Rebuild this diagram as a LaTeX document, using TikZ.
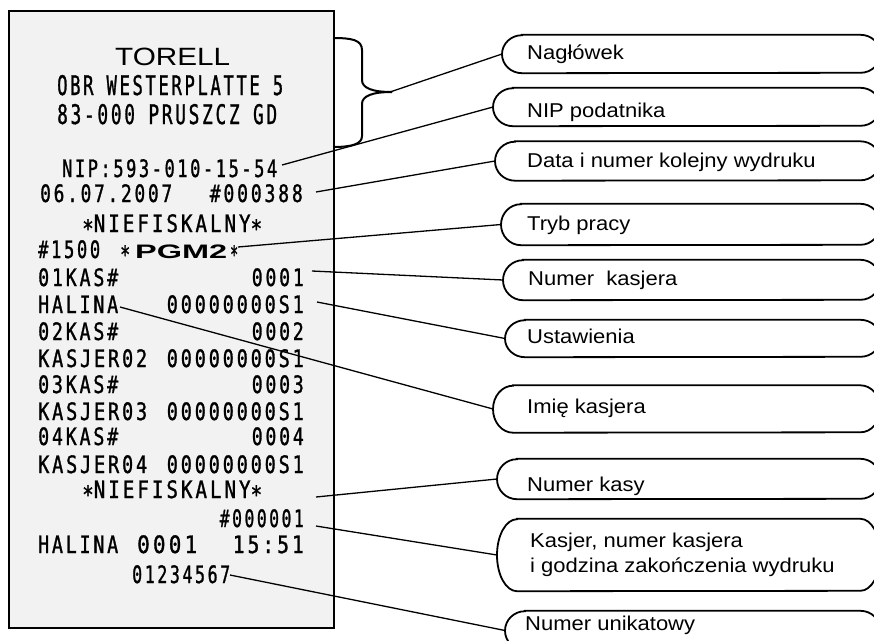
\documentclass[tikz,border=0pt]{standalone}
\usepackage{fontspec}
\usepackage{graphicx}
\usetikzlibrary{calc}
\setmainfont{Liberation Sans}
\newfontfamily\rcpt[FakeStretch=0.78,LetterSpace=12,FakeBold=1.2]{DejaVu Sans Mono}
\newfontfamily\arialf{Liberation Sans}
\definecolor{paper}{HTML}{F2F2F2}
\newcommand{\fw}[2]{\resizebox{#1pt}{\height}{#2}}
\newcommand{\rast}{\raisebox{-5pt}[12pt][0pt]{*}}
\newcommand{\lt}[1]{\scalebox{1.1}[1]{#1}}
\newcommand{\mkcallout}[4]{%
  \node[inner sep=0pt,minimum width={880-#2},minimum height=#4,anchor=west] (#1) at (#2,#3) {};
  \draw[boxline] ([xshift=20pt]#1.north west) -- ([xshift=-20pt]#1.north east)
    arc[start angle=90,end angle=-90,x radius=20pt,y radius={#4*0.5pt}]
    -- ([xshift=20pt]#1.south west)
    arc[start angle=270,end angle=90,x radius=20pt,y radius={#4*0.5pt}] -- cycle;}
\begin{document}
\begin{tikzpicture}[x=1pt,y=-1pt,
  rc/.style={inner sep=0pt,anchor=base west,font=\rcpt\fontsize{24}{24}\selectfont},
  rcr/.style={rc,anchor=base east},
  rch/.style={rc,font=\rcpt\fontsize{27}{27}\selectfont},
  lbl/.style={inner sep=0pt,anchor=base west,font=\fontsize{20}{24}\selectfont},
  conn/.style={line width=1.3pt},
  boxline/.style={line width=1.8pt},
  bracestroke/.style={line width=2pt}]
\useasboundingbox (0,0) rectangle (874,640);
\clip (0,0) rectangle (874,640);

% receipt
\node[draw,fill=paper,line width=2pt,inner sep=0pt,minimum width=325,minimum height=617,anchor=north west] (rcp) at (8,10) {};

\node[rc] (h1) at (115,65) {\fw{115}{\arialf\fontsize{25}{25}\selectfont TORELL}};
\node[rch] (h2) at (57,95) {\fw{226}{OBR WESTERPLATTE 5}};
\node[rch] (h3) at (57,124) {\fw{220}{83-000 PRUSZCZ GD}};
\node[rc] (nip) at (62,177) {\fw{215}{NIP:593-010-15-54}};
\node[rc] (date) at (40,202) {\fw{132}{06.07.2007}};
\node[rcr] (wyd) at (303,202) {\fw{93}{\#000388}};
\node[rc] (nf1) at (82,232) {\fw{180}{\rast NIEFISKALNY\rast}};
\node[rc] (m1) at (38,258) {\fw{62}{\#1500}};
\node[rc] (sa) at (120,258) {\fw{10}{\rast}};
\node[rc] (pgm) at (135,258) {\fw{92}{\arialf\bfseries\fontsize{19.5}{20}\selectfont PGM2}};
\node[rc] (sb) at (230,258) {\fw{8}{\rast}};
\node[rc] (k1) at (38,286) {\fw{80}{01KAS\#}};
\node[rcr] (k1n) at (304,286) {\fw{52}{0001}};
\node[rc] (n1) at (38,313) {\fw{80}{HALINA}};
\node[rcr] (n1s) at (304,313) {\fw{137}{00000000S1}};
\node[rc] (k2) at (38,340) {\fw{80}{02KAS\#}};
\node[rcr] (k2n) at (304,340) {\fw{52}{0002}};
\node[rc] (n2) at (38,367) {\fw{109}{KASJER02}};
\node[rcr] (n2s) at (304,367) {\fw{137}{00000000S1}};
\node[rc] (k3) at (38,393) {\fw{80}{03KAS\#}};
\node[rcr] (k3n) at (304,393) {\fw{52}{0003}};
\node[rc] (n3) at (38,420) {\fw{109}{KASJER03}};
\node[rcr] (n3s) at (304,420) {\fw{137}{00000000S1}};
\node[rc] (k4) at (38,445) {\fw{80}{04KAS\#}};
\node[rcr] (k4n) at (304,445) {\fw{52}{0004}};
\node[rc] (n4) at (38,473) {\fw{109}{KASJER04}};
\node[rcr] (n4s) at (304,473) {\fw{137}{00000000S1}};
\node[rc] (nf2) at (82,498) {\fw{180}{\rast NIEFISKALNY\rast}};
\node[rcr] (kasa) at (304,527) {\fw{84}{\#000001}};
\node[rc] (hal) at (38,553) {\fw{80}{HALINA}};
\node[rc] (hk) at (137,553) {\fw{60}{0001}};
\node[rcr] (hg) at (304,553) {\fw{71}{15:51}};
\node[rc] (uni) at (132,583) {\fw{98}{01234567}};

% brace
\draw[bracestroke] (333,38) .. controls (352,38) and (362,40) .. (362,50) -- (362,80)
  .. controls (362,88) and (372,92) .. (392,92);
\draw[bracestroke] (392,92) .. controls (372,92) and (362,96) .. (362,104) -- (362,136)
  .. controls (362,144) and (352,147) .. (333,147);

% callouts
\mkcallout{c1}{502}{54}{38}
\mkcallout{c2}{493}{107}{38}
\mkcallout{c3}{495}{161}{39}
\mkcallout{c4}{501}{224.5}{41}
\mkcallout{c5}{503}{280}{40}
\mkcallout{c6}{505}{338.5}{37}
\mkcallout{c7}{493}{409}{47}
\mkcallout{c8}{497}{479}{40}
\mkcallout{c9}{497}{555}{72}
\mkcallout{c10}{505}{630.5}{39}

\node[lbl] (t1) at (527,59) {\lt{Nagłówek}};
\node[lbl] (t2) at (527,117) {\lt{NIP podatnika}};
\node[lbl] (t3) at (527,167) {\lt{Data i numer kolejny wydruku}};
\node[lbl] (t4) at (527,230) {\lt{Tryb pracy}};
\node[lbl] (t5) at (528,285) {\lt{Numer\ \ kasjera}};
\node[lbl] (t6) at (527,343) {\lt{Ustawienia}};
\node[lbl] (t7) at (527,413) {\lt{Imię kasjera}};
\node[lbl] (t8) at (527,491) {\lt{Numer kasy}};
\node[lbl] (t9a) at (530,547) {\lt{Kasjer, numer kasjera}};
\node[lbl] (t9b) at (530,572) {\lt{i godzina zakończenia wydruku}};
\node[lbl] (t10) at (525,630) {\lt{Numer unikatowy}};

% connector free ends
\coordinate (btip) at (390,92);
\coordinate (pnip) at (282,165);
\coordinate (pdate) at (316,192);
\coordinate (ppgm) at (238,247);
\coordinate (pk1) at (312,271);
\coordinate (pset) at (317,302);
\coordinate (phal) at (120,307);
\coordinate (pnf) at (316,497);
\coordinate (pkasa) at (316,526);
\coordinate (puni) at (230,575);

\draw[conn] (btip) -- (c1.west);
\draw[conn] (pnip) -- (c2.west);
\draw[conn] (pdate) -- (c3.west);
\draw[conn] (ppgm) -- (c4.west);
\draw[conn] (pk1) -- (c5.west);
\draw[conn] (pset) -- (c6.west);
\draw[conn] (phal) -- (c7.west);
\draw[conn] (pnf) -- (c8.west);
\draw[conn] (pkasa) -- (c9.west);
\draw[conn] (puni) -- (c10.west);
\end{tikzpicture}
\end{document}
